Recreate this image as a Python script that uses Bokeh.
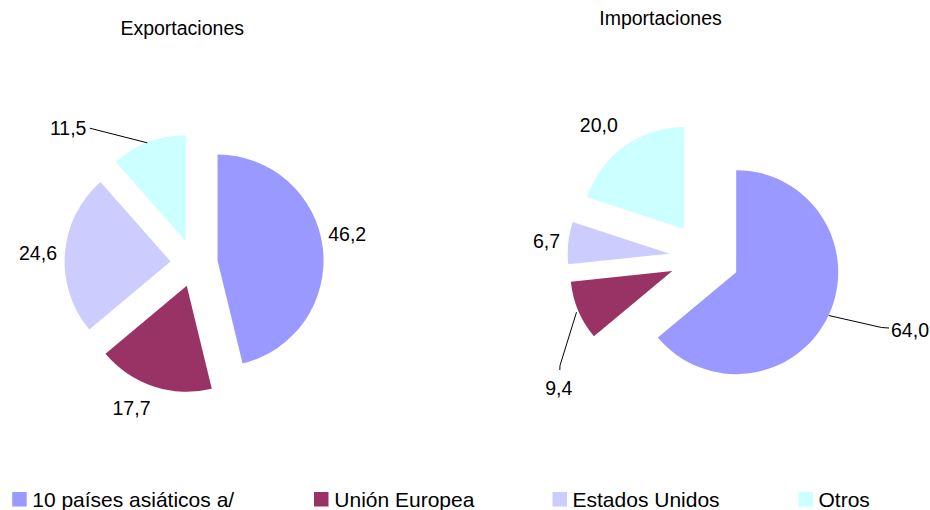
import math
from bokeh.plotting import figure
from bokeh.models import Range1d, ColumnDataSource
from bokeh.core.properties import value
from bokeh.embed import file_html
from bokeh.resources import INLINE

# ---------------- data ----------------
categories = ["10 países asiáticos a/", "Unión Europea", "Estados Unidos", "Otros"]
export_vals = [46.2, 17.7, 24.6, 11.5]
import_vals = [64.0, 9.4, 6.7, 20.0]
titles = ["Exportaciones", "Importaciones"]
colors = ["#9999FF", "#993366", "#CCCCFF", "#CCFFFF"]

# ---------------- layout (screen pixels) ----------------
W, H = 930, 510
FONT = "Liberation Sans"
TEXT_DY = 7.5  # baseline correction for svg text


def fx(sx):
    return sx


def fy(sy):
    return H - sy


def ty(sy):
    return H - sy + TEXT_DY


pies = [
    dict(vals=export_vals, cx=193.6, cy=262.8, r=106, d=23.6,
         title_xy=(181.7, 35),
         label_xy=[(346.7, 240.7), (131, 415), (37.5, 260), (67.7, 135)],
         leaders={3: [(89.3, 127.7), (146.7, 142.3)]}),
    dict(vals=import_vals, cx=704, cy=256.8, r=102, d=35,
         title_xy=(660, 25),
         label_xy=[(909.5, 336.7), (558.3, 395), (546, 248.3), (598.3, 132.3)],
         leaders={0: [(828.3, 315), (881, 327), (888.5, 327.5)],
                  1: [(576, 311.7), (559.5, 365), (559.3, 369.5)]}),
]

legend_sq_x = [11.7, 313.5, 552, 798]
legend_txt_x = [31.7, 333.8, 572, 818]
legend_base = 506
legend_sq = 14.5

p = figure(width=W, height=H, x_range=Range1d(0, W), y_range=Range1d(0, H),
           x_axis_type=None, y_axis_type=None, toolbar_location=None,
           output_backend="svg", min_border=0)
p.outline_line_color = None
p.background_fill_color = "white"
p.border_fill_color = "white"

for pie, title in zip(pies, titles):
    vals = pie["vals"]
    total = sum(vals)
    xs, ys, sa, ea, cols = [], [], [], [], []
    cum = 0.0
    for v, c in zip(vals, colors):
        f = v / total
        a0 = math.pi / 2 - 2 * math.pi * cum
        a1 = math.pi / 2 - 2 * math.pi * (cum + f)
        mid = (a0 + a1) / 2
        xs.append(fx(pie["cx"]) + pie["d"] * math.cos(mid))
        ys.append(fy(pie["cy"]) + pie["d"] * math.sin(mid))
        sa.append(a0)
        ea.append(a1)
        cols.append(c)
        cum += f
    src = ColumnDataSource(dict(x=xs, y=ys, sa=sa, ea=ea, color=cols))
    p.wedge(x="x", y="y", radius=pie["r"], start_angle="sa", end_angle="ea",
            direction="clock", fill_color="color", line_color=None, source=src)

    # leader lines
    for idx, pts in pie["leaders"].items():
        p.line([fx(a) for a, b in pts], [fy(b) for a, b in pts],
               line_color="black", line_width=1)

    # value labels
    labels = [f"{v:.1f}".replace(".", ",") for v in vals]
    lsrc = ColumnDataSource(dict(x=[fx(a) for a, b in pie["label_xy"]],
                                 y=[ty(b) for a, b in pie["label_xy"]],
                                 t=labels))
    p.text(x="x", y="y", text="t", source=lsrc, text_align="center",
           text_baseline="alphabetic", text_font=value(FONT),
           text_font_size="19.5px", text_color="black")

    # title
    p.text(x=[fx(pie["title_xy"][0])], y=[ty(pie["title_xy"][1])], text=[title],
           text_align="center", text_baseline="alphabetic",
           text_font=value(FONT), text_font_size="19.5px", text_color="black")

# legend
p.rect(x=[fx(x + legend_sq / 2) for x in legend_sq_x],
       y=[fy(legend_base - legend_sq / 2)] * 4,
       width=legend_sq, height=legend_sq, fill_color=colors, line_color=None)
p.text(x=[fx(x) for x in legend_txt_x], y=[ty(legend_base)] * 4, text=categories,
       text_align="left", text_baseline="alphabetic", text_font=value(FONT),
       text_font_size="21px", text_color="black")

open("out.html", "w").write(file_html(p, INLINE))
